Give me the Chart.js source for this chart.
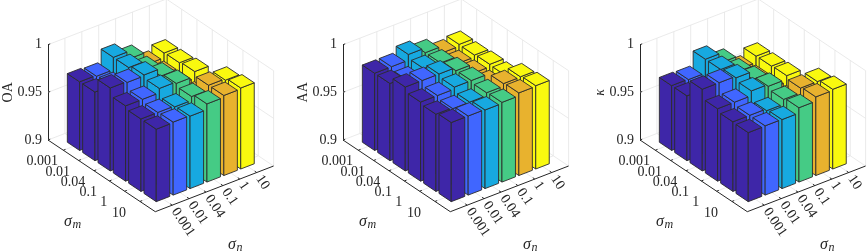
<!DOCTYPE html>
<html><head><meta charset="utf-8">
<style>html,body{margin:0;padding:0;background:#fff;overflow:hidden}
.p{position:absolute;top:0;height:251px}</style>
<script src="https://cdn.jsdelivr.net/npm/chart.js@4"></script></head>
<body>
<div class="p" style="left:0;width:292px"><canvas id="c0" width="292" height="251"></canvas></div>
<div class="p" style="left:295px;width:292px"><canvas id="c1" width="292" height="251"></canvas></div>
<div class="p" style="left:592px;width:276px"><canvas id="c2" width="276" height="251"></canvas></div>
<script>
const sigmaM = ['0.001','0.01','0.04','0.1','1','10'];
const sigmaN = ['0.001','0.01','0.04','0.1','1','10'];
const colors = ['#3e26a8','#4066ff','#17a9e0','#45cb85','#e8b22e','#f9f90f'];
// rows: sigma_n, columns: sigma_m
const oaN1 = [.972,.972,.987,.979,.976,.976];
const oaN2 = [.971,.972,.986,.979,.976,.9766];
const oaN3 = [.984,.984,.987,.9836,.975,.976];
const oaN4 = [.976,.975,.979,.982,.979,.982];
const oaN5 = [.963,.963,.963,.963,.984,.984];
const oaN6 = [.968,.9685,.970,.960,.9825,.985];
const aaN1 = [.981,.981,.988,.983,.981,.983];
const aaN2 = [.981,.978,.988,.983,.980,.983];
const aaN3 = [.987,.983,.988,.985,.980,.9825];
const aaN4 = [.982,.982,.9846,.985,.983,.9836];
const aaN5 = [.975,.9745,.975,.975,.9857,.9867];
const aaN6 = [.977,.9766,.9776,.977,.986,.9874];
const kaN1 = [.968,.968,.9857,.976,.973,.9724];
const kaN2 = [.9675,.967,.9857,.976,.973,.9727];
const kaN3 = [.982,.982,.984,.981,.971,.9724];
const kaN4 = [.972,.9727,.9755,.979,.976,.978];
const kaN5 = [.958,.9587,.959,.959,.981,.9825];
const kaN6 = [.9647,.965,.9657,.955,.981,.9836];
const panels = [
 {id:'c0',title:'OA',rows:[oaN1,oaN2,oaN3,oaN4,oaN5,oaN6]},
 {id:'c1',title:'AA',rows:[aaN1,aaN2,aaN3,aaN4,aaN5,aaN6]},
 {id:'c2',title:'κ',rows:[kaN1,kaN2,kaN3,kaN4,kaN5,kaN6]}];
const serif = '"Liberation Serif","Times New Roman",serif';
const ink = '#262626', edge = '#2b2b2b', gridC = '#e4e4e4';
const Vm = {x:107.3,y:71.7}, Vn = {x:118.3,y:-45.7};

const bars3d = {
 id:'bars3d',
 beforeDatasetsDraw(chart){
  const g = proj(chart), ctx = chart.ctx;
  const z = [.9,.95,1];
  ctx.save(); ctx.lineWidth = .8; ctx.strokeStyle = gridC;
  const seg=(a,b)=>{ctx.beginPath();ctx.moveTo(a.x,a.y);ctx.lineTo(b.x,b.y);ctx.stroke();};
  for(const v of z){ seg(g(0,0,v),g(0,7,v)); seg(g(0,7,v),g(7,7,v)); }
  for(let i=1;i<=6;i++){
    seg(g(0,i,.9),g(0,i,1)); seg(g(i,7,.9),g(i,7,1));
    seg(g(i,0,.9),g(i,7,.9)); seg(g(0,i,.9),g(7,i,.9));
  }
  seg(g(0,7,.9),g(0,7,1)); seg(g(7,7,.9),g(7,7,1));
  ctx.restore();
 },
 afterDatasetsDraw(chart){
  const g = proj(chart), ctx = chart.ctx, w=.4;
  ctx.save(); ctx.lineJoin='round'; ctx.lineWidth=.9; ctx.strokeStyle=edge;
  const face=(pts,c)=>{ctx.beginPath();pts.forEach((p,i)=>i?ctx.lineTo(p.x,p.y):ctx.moveTo(p.x,p.y));ctx.closePath();ctx.fillStyle=c;ctx.fill();ctx.stroke();};
  for(let m=1;m<=6;m++) for(let ni=5;ni>=0;ni--){
    const n=ni+1, pt=chart.data.datasets[ni].data[m-1], v=pt.y, c=chart.data.datasets[ni].backgroundColor;
    const b=.9;
    face([g(m-w,n-w,b),g(m+w,n-w,b),g(m+w,n-w,v),g(m-w,n-w,v)],c);
    face([g(m+w,n-w,b),g(m+w,n+w,b),g(m+w,n+w,v),g(m+w,n-w,v)],c);
    face([g(m-w,n-w,v),g(m+w,n-w,v),g(m+w,n+w,v),g(m-w,n+w,v)],c);
  }
  ctx.strokeStyle=ink; ctx.lineWidth=1;
  const seg=(a,b)=>{ctx.beginPath();ctx.moveTo(a.x,a.y);ctx.lineTo(b.x,b.y);ctx.stroke();};
  seg(g(0,0,.9),g(7,0,.9)); seg(g(7,0,.9),g(7,7,.9));
  for(let i=1;i<=6;i++){ seg(g(i,0,.9),g(i,.13,.9)); seg(g(7,i,.9),g(6.87,i,.9)); }
  for(const v of [.9,.95,1]) seg(g(0,0,v),g(0,.13,v));
  ctx.fillStyle=ink; ctx.font='14px '+serif; ctx.textBaseline='middle';
  sigmaM.forEach((t,i)=>{const p=g(i+1,0,.9);ctx.textAlign='center';ctx.fillText(t,p.x-21,p.y+11.5);});
  sigmaN.forEach((t,i)=>{const p=g(7,i+1,.9);ctx.save();ctx.translate(p.x+2,p.y+4);ctx.rotate(56*Math.PI/180);ctx.textAlign='left';ctx.fillText(t,0,0);ctx.restore();});
  const sym=(p,s)=>{ctx.textAlign='left';ctx.font='italic 16px '+serif;ctx.fillText('σ',p.x,p.y);ctx.font='italic 12px '+serif;ctx.fillText(s,p.x+8.5,p.y+3);};
  const o=g(0,0,.9);
  sym({x:o.x+16,y:o.y+82},'m');
  sym({x:o.x+180,y:o.y+105},'n');
  ctx.restore();
 }
};
function proj(chart){
 const X=chart.scales.x, N=chart.scales.xn, Y=chart.scales.y;
 return (m,n,v)=>{
  const fm=(X.getPixelForValue(m)-X.left)/X.width, fn=(N.getPixelForValue(n)-N.left)/N.width;
  return {x:Y.right+fm*Vm.x+fn*Vn.x, y:Y.bottom+fm*Vm.y+fn*Vn.y-(Y.bottom-Y.getPixelForValue(v))};
 };
}
panels.forEach(p=>{
 new Chart(document.getElementById(p.id),{
  type:'scatter',
  data:{datasets:p.rows.map((r,i)=>({label:sigmaN[i],data:r.map((v,j)=>({x:j+1,y:v})),backgroundColor:colors[i],pointRadius:0,pointHoverRadius:0,showLine:false}))},
  options:{responsive:false,animation:false,events:[],
   layout:{padding:{top:44.7,bottom:111,left:0,right:0}},
   plugins:{legend:{display:false},tooltip:{enabled:false},title:{display:false}},
   scales:{
    x:{type:'linear',min:0,max:7,display:false},
    xn:{type:'linear',axis:'x',position:'top',min:0,max:7,display:false},
    y:{type:'linear',min:.9,max:1,position:'left',
       grid:{display:false,drawTicks:false},border:{display:true,color:ink,width:1},
       afterFit(s){s.width=48;},
       ticks:{stepSize:.05,padding:6,color:ink,font:{family:serif,size:14},callback:v=>String(+v.toFixed(2))},
       title:{display:true,text:p.title,color:ink,font:{family:serif,size:14,style:p.title==='κ'?'italic':'normal'},padding:{top:0,bottom:0}}}
   }
  },
  plugins:[bars3d]
 });
});
</script>
</body></html>
